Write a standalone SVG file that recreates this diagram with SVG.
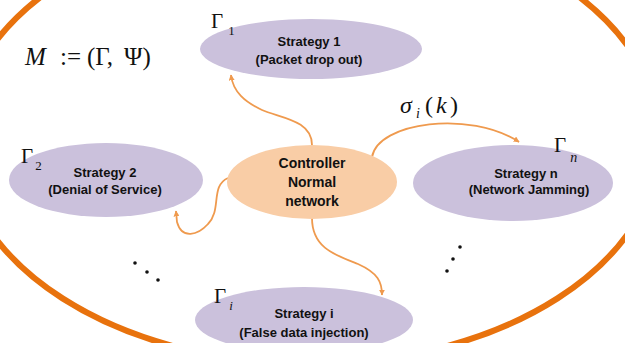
<svg xmlns="http://www.w3.org/2000/svg" width="625" height="343" viewBox="0 0 625 343">
  <defs>
    <marker id="arrow" viewBox="0 0 10 10" refX="9" refY="5" markerWidth="6" markerHeight="6" orient="auto" markerUnits="userSpaceOnUse">
      <path d="M0,0 L10,5 L0,10 z" fill="#EF9A4E"/>
    </marker>
    <style>
      .strategy { fill: #CBC1DC; }
      .controller { fill: #F9CDA6; }
      .label { font-family: "Liberation Sans", Arial, sans-serif; font-weight: bold; font-size: 13px; fill: #111; text-anchor: middle; }
      .ctl { font-size: 14px; }
      .math { font-family: "Liberation Serif", "Times New Roman", serif; fill: #111; }
      .link { fill: none; stroke: #EF9A4E; stroke-width: 1.8; marker-end: url(#arrow); }
    </style>
  </defs>

  <rect width="625" height="343" fill="#FFFFFF"/>

  <!-- outer boundary of the mode set -->
  <ellipse id="boundary" cx="310" cy="140" rx="350" ry="224" fill="none" stroke="#E8720D" stroke-width="6"/>

  <!-- model definition -->
  <text class="math" x="25" y="65" font-size="25"><tspan font-style="italic">M</tspan><tspan x="60">:=</tspan><tspan x="87">(Γ,</tspan><tspan x="124">Ψ)</tspan></text>

  <g id="connectors">
    <path class="link" d="M312,145 C312,120 280,118 262,110 C245,102 233,92 231,75"/>
    <path class="link" d="M228,178 C210,186 222,210 208,224 C198,235 182,240 177,222 L176,211"/>
    <path class="link" d="M372,157 C378,122 470,110 519,142"/>
    <path class="link" d="M312,218 C312,248 335,255 358,264 C378,273 382,282 382,295"/>
  </g>

  <!-- switching signal label -->
  <text class="math" y="113" font-size="24" font-style="italic"><tspan x="400">σ</tspan><tspan x="416" y="118" font-size="14">i</tspan><tspan x="425" y="113" font-style="normal">(</tspan><tspan x="436">k</tspan><tspan x="450" font-style="normal">)</tspan></text>

  <g id="strategy1">
    <ellipse class="strategy" cx="311" cy="49" rx="111" ry="30"/>
    <text class="label" x="309" y="46">Strategy 1</text>
    <text class="label" x="309" y="64">(Packet drop out)</text>
    <text class="math" x="211" y="28" font-size="21">Γ<tspan font-size="13" dx="5" dy="7">1</tspan></text>
  </g>

  <g id="strategy2">
    <ellipse class="strategy" cx="106" cy="180" rx="97" ry="37"/>
    <text class="label" x="105" y="177">Strategy 2</text>
    <text class="label" x="105" y="194">(Denial of Service)</text>
    <text class="math" x="21" y="163" font-size="21">Γ<tspan font-size="13" dx="2" dy="7">2</tspan></text>
  </g>

  <g id="strategyN">
    <ellipse class="strategy" cx="513" cy="183" rx="100" ry="38"/>
    <text class="label" x="526" y="178">Strategy n</text>
    <text class="label" x="529" y="194">(Network Jamming)</text>
    <text class="math" x="554" y="152" font-size="21">Γ<tspan font-size="14" font-style="italic" dx="4" dy="10">n</tspan></text>
  </g>

  <g id="strategyI">
    <ellipse class="strategy" cx="304" cy="320" rx="109" ry="33"/>
    <text class="label" x="304" y="318">Strategy i</text>
    <text class="label" x="304" y="337">(False data injection)</text>
    <text class="math" x="214" y="303" font-size="21">Γ<tspan font-size="13" font-style="italic" dx="3" dy="7">i</tspan></text>
  </g>

  <g id="controller">
    <ellipse class="controller" cx="312" cy="182" rx="85" ry="37"/>
    <text class="label ctl" x="312" y="168">Controller</text>
    <text class="label ctl" x="312" y="187">Normal</text>
    <text class="label ctl" x="312" y="206">network</text>
  </g>

  <!-- ellipsis marks for further strategies -->
  <g id="more" fill="#111">
    <circle cx="135" cy="263" r="1.8"/>
    <circle cx="147" cy="272" r="1.8"/>
    <circle cx="158" cy="280" r="1.8"/>
    <circle cx="460" cy="247" r="1.8"/>
    <circle cx="453" cy="259" r="1.8"/>
    <circle cx="447" cy="271" r="1.8"/>
  </g>
</svg>
